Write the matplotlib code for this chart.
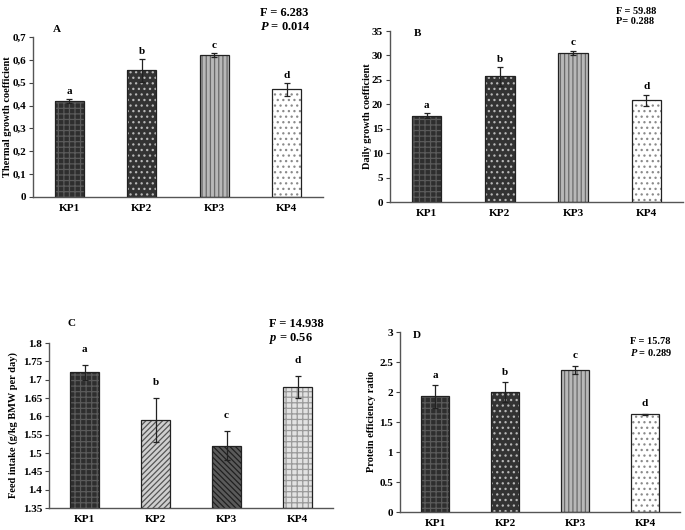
import matplotlib
matplotlib.use("Agg")
import matplotlib.pyplot as plt
from matplotlib.ticker import FuncFormatter

plt.rcParams["font.family"] = ["Liberation Serif", "DejaVu Serif"]
plt.rcParams["font.weight"] = "bold"
plt.rcParams["mathtext.fontset"] = "custom"
plt.rcParams["mathtext.it"] = "Liberation Serif:italic:bold"
plt.rcParams["mathtext.rm"] = "Liberation Serif:bold"
plt.rcParams["hatch.linewidth"] = 0.9

groups = ["KP1", "KP2", "KP3", "KP4"]

tgc = [0.42, 0.555, 0.62, 0.472]
tgc_err = [0.008, 0.05, 0.008, 0.028]

dgc = [17.7, 25.7, 30.5, 20.8]
dgc_err = [0.5, 2.0, 0.5, 1.2]

feed = [1.72, 1.59, 1.52, 1.68]
feed_err = [0.02, 0.06, 0.04, 0.03]

per = [1.93, 2.0, 2.37, 1.63]
per_err = [0.19, 0.17, 0.07, 0.01]

letters = ["a", "b", "c", "d"]

W, H = 685, 530

# (facecolor, hatch, hatch colour)
style_a = [
    ("#2e2e2e", "+++", "#5a5a5a"),
    ("#333333", "...", "#b8b8b8"),
    ("#b8b8b8", "||||", "#6a6a6a"),
    ("#ffffff", "...", "#8a8a8a"),
]
style_c = [
    ("#2e2e2e", "+++", "#5a5a5a"),
    ("#cfcfcf", "//////", "#555555"),
    ("#5a5a5a", "\\\\\\\\\\\\", "#202020"),
    ("#e2e2e2", "+++", "#9a9a9a"),
]


def make_axes(left, right, top, bottom):
    return plt.gcf().add_axes(
        [left / W, (H - bottom) / H, (right - left) / W, (bottom - top) / H]
    )


def draw_panel(ax, values, errors, styles, ylim, yticks, ylabel, fmt, offset,
               label_x):
    x = range(len(groups))
    for i, (fc, hatch, hc) in enumerate(styles):
        ax.bar(i, values[i], width=0.4, color=fc, hatch=hatch, edgecolor=hc,
               linewidth=0, zorder=2)
    ax.bar(x, values, width=0.4, fill=False, edgecolor="#222222",
           linewidth=0.9, zorder=3)
    ax.errorbar(x, values, yerr=errors, fmt="none", ecolor="#222222",
                elinewidth=0.9, capsize=2, capthick=0.9, zorder=4)
    for i in x:
        ax.annotate(letters[i], (i, values[i] + errors[i]), xytext=(0, offset),
                    textcoords="offset points", ha="center", va="center",
                    fontsize=8, fontweight="bold")
    ax.set_xlim(-0.5, 3.5)
    ax.set_ylim(*ylim)
    ax.set_yticks(yticks)
    ax.yaxis.set_major_formatter(FuncFormatter(fmt))
    ax.set_xticks(list(x))
    ax.set_xticklabels(groups)
    ax.tick_params(axis="x", length=0, labelsize=8, pad=5)
    ax.tick_params(axis="y", length=3, width=0.8, labelsize=8, pad=2,
                   color="#444444")
    for s in ("top", "right"):
        ax.spines[s].set_visible(False)
    for s in ("left", "bottom"):
        ax.spines[s].set_color("#555555")
        ax.spines[s].set_linewidth(1.0)
    ax.set_ylabel(ylabel, fontsize=7.5, fontweight="bold", va="center")
    # place the label centre at a pixel column of the figure
    bbox = ax.get_position()
    ax.yaxis.set_label_coords((label_x / W - bbox.x0) / bbox.width, 0.5)


def comma(v, pos):
    return "0" if v == 0 else f"{v:.1f}".replace(".", ",")


def plain(v, pos):
    return f"{v:g}"


fig = plt.figure(figsize=(6.85, 5.3), dpi=100)

ax_a = make_axes(33, 323, 37, 197)
draw_panel(ax_a, tgc, tgc_err, style_a, (0, 0.7),
           [0, 0.1, 0.2, 0.3, 0.4, 0.5, 0.6, 0.7],
           "Thermal growth coefficient", comma, 5.5, 8)

ax_b = make_axes(390, 683, 31, 202)
draw_panel(ax_b, dgc, dgc_err, style_a, (0, 35),
           [0, 5, 10, 15, 20, 25, 30, 35],
           "Daily growth coefficient", plain, 5.5, 367)

ax_c = make_axes(49, 333, 343, 508)
draw_panel(ax_c, feed, feed_err, style_c, (1.35, 1.8),
           [1.35, 1.4, 1.45, 1.5, 1.55, 1.6, 1.65, 1.7, 1.75, 1.8],
           "Feed intake (g/kg BMW per day)", plain, 11, 13)

ax_d = make_axes(400, 680, 332, 512)
draw_panel(ax_d, per, per_err, style_a, (0, 3),
           [0, 0.5, 1, 1.5, 2, 2.5, 3],
           "Protein efficiency ratio", plain, 7, 372)


def ftext(x, y, s, size=9):
    fig.text(x / W, 1 - y / H, s, ha="left", va="center", fontsize=size,
             fontweight="bold")


ftext(53, 30, "A", 8)
ftext(414, 34, "B", 8)
ftext(67, 323, "C", 8)
ftext(413, 335, "D", 8)

ftext(260, 13, "F = 6.283")
ftext(260, 27, "$P$ = 0.014")
ftext(616, 11, "F = 59.88", 7.5)
ftext(616, 21, "P= 0.288", 7.5)
ftext(269, 324, "F = 14.938")
ftext(269, 338, "$p$ = 0.56")
ftext(630, 342, "F = 15.78", 7.5)
ftext(630, 353, "$P$ = 0.289", 7.5)

fig.savefig("out.png", dpi=100)
